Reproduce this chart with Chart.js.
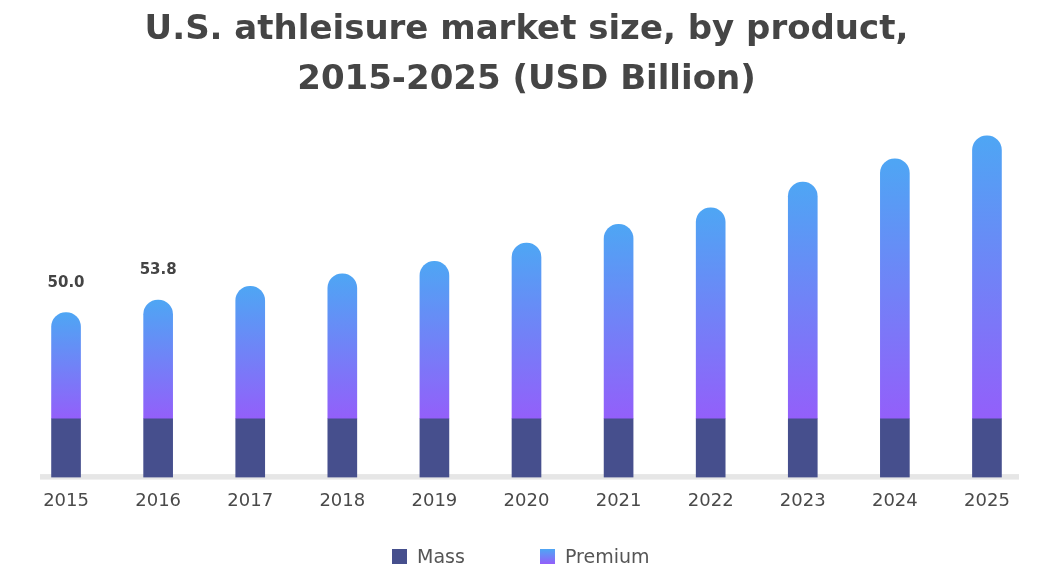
<!DOCTYPE html>
<html>
<head>
<meta charset="utf-8">
<script src="https://cdn.jsdelivr.net/npm/chart.js@4.4.1/dist/chart.umd.min.js"></script>
<style>
  html, body { margin: 0; padding: 0; background: #ffffff; }
  #wrap { position: relative; width: 1052px; height: 587px; }
  #legend { position: absolute; left: 0; top: 544px; width: 1052px; height: 24px; font-family: "DejaVu Sans", sans-serif; font-size: 19px; color: #555555; }
  .item { position: absolute; top: 0; display: flex; align-items: center; height: 24px; }
  .box { width: 15px; height: 15px; margin-right: 10px; }
</style>
</head>
<body>
<div id="wrap">
  <canvas id="c" width="1052" height="587"></canvas>
  <div id="legend">
    <div class="item" style="left:392px"><div class="box" style="background:#464f8d"></div>Mass</div>
    <div class="item" style="left:540px"><div class="box" style="background:linear-gradient(#4ea6f4,#935ffa)"></div>Premium</div>
  </div>
</div>
<script>
const years = ["2015","2016","2017","2018","2019","2020","2021","2022","2023","2024","2025"];
const mass = [17.8, 17.8, 17.8, 17.8, 17.8, 17.8, 17.8, 17.8, 17.8, 17.8, 17.8];
const premium = [32.2, 36.0, 40.2, 44.0, 47.8, 53.3, 59.0, 64.0, 71.8, 78.9, 85.9];
const totalLabels = ["50.0", "53.8", "", "", "", "", "", "", "", "", ""];

const massColor = "#464f8d";
const premTop = "#4ea6f4";
const premBottom = "#935ffa";

const premiumFill = (ctx) => {
  const chart = ctx.chart;
  if (!chart.chartArea || ctx.type !== 'data') return premTop;
  const y = chart.scales.y;
  const i = ctx.dataIndex;
  const top = y.getPixelForValue(mass[i] + premium[i]);
  const bot = y.getPixelForValue(mass[i]);
  const g = chart.ctx.createLinearGradient(0, top, 0, bot);
  g.addColorStop(0, premTop);
  g.addColorStop(1, premBottom);
  return g;
};

const baselinePlugin = {
  id: 'baseline',
  beforeDatasetsDraw(chart) {
    const { ctx, chartArea, scales } = chart;
    const y0 = scales.y.getPixelForValue(0);
    ctx.save();
    ctx.fillStyle = '#e6e6e6';
    ctx.fillRect(chartArea.left + 20, y0 - 3.3, chartArea.right - chartArea.left - 34, 5.5);
    ctx.restore();
  }
};

const totalsPlugin = {
  id: 'totals',
  afterDatasetsDraw(chart) {
    const { ctx, scales } = chart;
    ctx.save();
    ctx.font = 'bold 15px "DejaVu Sans", sans-serif';
    ctx.fillStyle = '#444444';
    ctx.textAlign = 'center';
    ctx.textBaseline = 'middle';
    totalLabels.forEach((t, i) => {
      if (!t) return;
      const x = scales.x.getPixelForValue(i);
      const yy = scales.y.getPixelForValue(mass[i] + premium[i]) - 30;
      ctx.fillText(t, x, yy);
    });
    ctx.restore();
  }
};

new Chart(document.getElementById('c'), {
  type: 'bar',
  data: {
    labels: years,
    datasets: [
      { label: 'Mass', data: mass, backgroundColor: massColor, barThickness: 29, borderRadius: 0, borderSkipped: false },
      { label: 'Premium', data: premium, backgroundColor: premiumFill, barThickness: 29,
        borderRadius: { topLeft: 14.5, topRight: 14.5, bottomLeft: 0, bottomRight: 0 }, borderSkipped: 'start' }
    ]
  },
  options: {
    responsive: false,
    animation: false,
    layout: { padding: { left: 20, right: 19, top: 0, bottom: 62 } },
    plugins: {
      legend: { display: false },
      tooltip: { enabled: false },
      title: {
        display: true,
        text: ['U.S. athleisure market size, by product,', '2015-2025 (USD Billion)'],
        color: '#454545',
        font: { family: '"DejaVu Sans", sans-serif', size: 34, weight: 'bold', lineHeight: 1.47 },
        padding: { top: 5, bottom: 10 }
      }
    },
    scales: {
      x: {
        stacked: true,
        grid: { display: false, drawTicks: false },
        border: { display: false },
        ticks: { color: '#4a4a4a', padding: 13, font: { family: '"DejaVu Sans", sans-serif', size: 18 } }
      },
      y: {
        stacked: true,
        display: false,
        min: 0,
        max: 110
      }
    }
  },
  plugins: [baselinePlugin, totalsPlugin]
});
</script>
</body>
</html>
